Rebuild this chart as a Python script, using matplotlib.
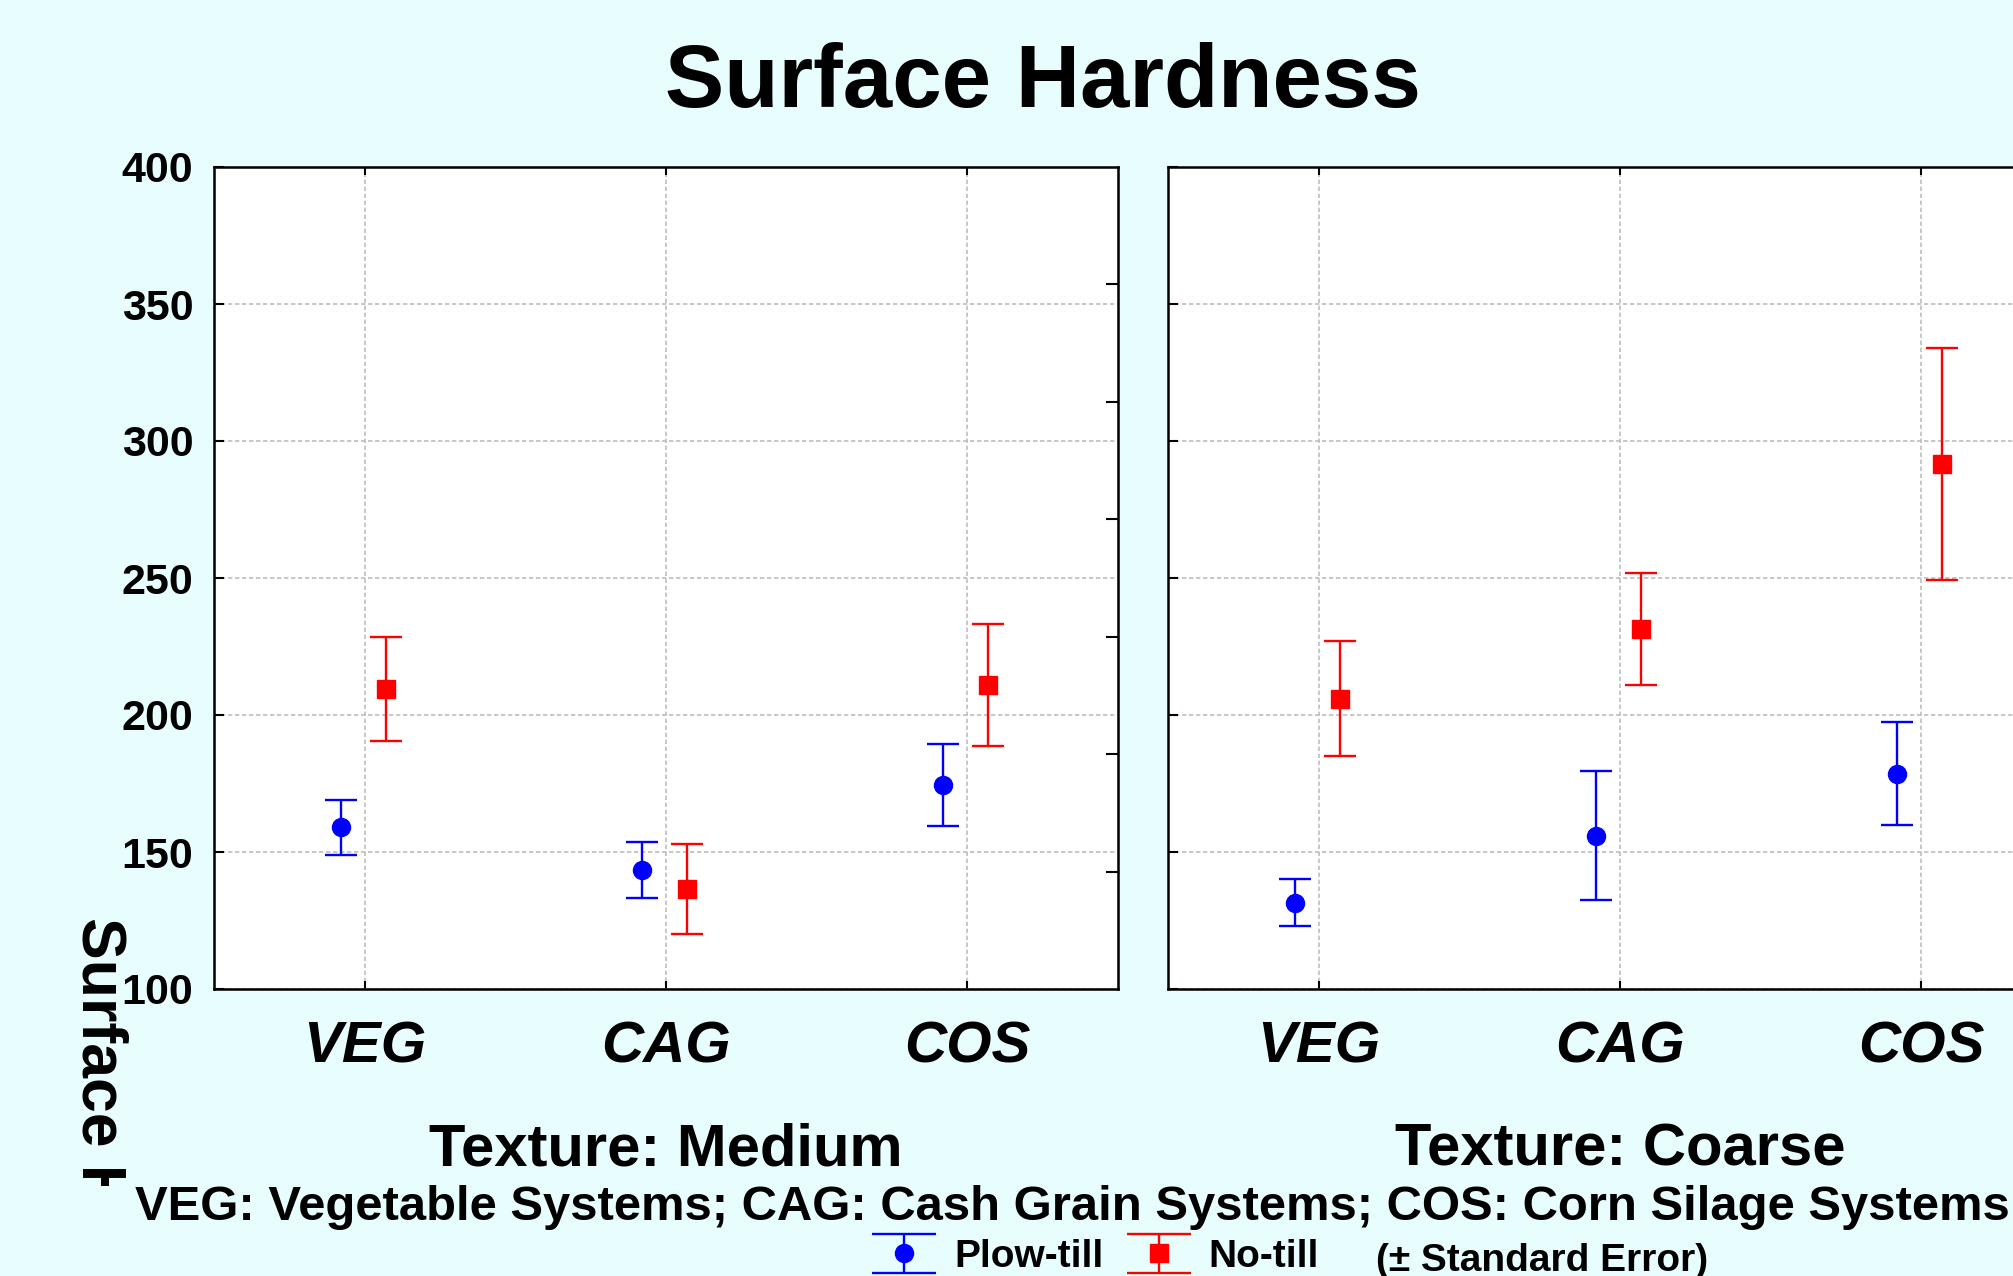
import numpy as np
import matplotlib
matplotlib.use('Agg')
import matplotlib.pyplot as plt
from matplotlib.lines import Line2D
from matplotlib.transforms import Bbox

# values
systems = ['VEG', 'CAG', 'COS']
textures = ['Texture: Medium', 'Texture: Coarse']
plow_medium = [159.0, 143.5, 174.5]
plow_medium_se = [10.0, 10.2, 15.0]
notill_medium = [209.5, 136.5, 211.0]
notill_medium_se = [19.0, 16.6, 22.3]
plow_coarse = [131.5, 156.0, 178.5]
plow_coarse_se = [8.5, 23.5, 18.8]
notill_coarse = [206.0, 231.5, 291.5]
notill_coarse_se = [21.0, 20.5, 42.3]
yticks = [100, 150, 200, 250, 300, 350, 400]
footer = 'VEG: Vegetable Systems; CAG: Cash Grain Systems; COS: Corn Silage Systems'
#
plt.rcParams['font.family'] = ['Liberation Sans', 'DejaVu Sans']
plt.rcParams['font.weight'] = 'bold'
bg = '#E8FDFD'
W, H = 2013, 1276
fig = plt.figure(figsize=(W/100, H/100), dpi=100, facecolor=bg)
#
ax1 = fig.add_axes([214/W, 1-989/H, 904/W, 822/H])
ax2 = fig.add_axes([1168/W, 1-989/H, 904/W, 822/H])
x = np.arange(len(systems))
ekw = dict(linestyle='none', elinewidth=1.7, capsize=11.5, capthick=1.7, markersize=13)
#
for ax, p, pse, n, nse, lab in [(ax1, plow_medium, plow_medium_se, notill_medium, notill_medium_se, textures[0]),
                                 (ax2, plow_coarse, plow_coarse_se, notill_coarse, notill_coarse_se, textures[1])]:
    ax.set_facecolor('white')
    eb1 = ax.errorbar(x-0.08, p, yerr=pse, fmt='o', color='#0000FF', zorder=3, **ekw)
    eb2 = ax.errorbar(x+0.07, n, yerr=nse, fmt='s', color='#FF0000', zorder=3, **ekw)
    ax.set_xlim(-0.5, 2.5)
    ax.set_ylim(100, 400)
    ax.set_xticks(x)
    ax.set_xticklabels(systems, fontsize=42, fontstyle='italic', fontweight='bold')
    ax.set_yticks(yticks)
    ax.grid(True, color='#BEBEBE', linestyle=(0, (2.6, 1.6)), linewidth=1.2)
    ax.set_axisbelow(True)
    ax.tick_params(axis='x', direction='in', top=True, length=6, width=1.5, pad=23)
    ax.tick_params(axis='y', direction='in', length=7, width=1.5, pad=15, labelsize=31)
    for s in ax.spines.values():
        s.set_linewidth(1.8)
    ax.text(0.5, -177/822, lab, transform=ax.transAxes, ha='center', va='baseline', fontsize=43)

ax2.set_yticklabels([])
# odd ticks on the right edge of the left panel
ax1r = ax1.twinx()
ax1r.set_ylim(100, 400)
ax1r.set_yticks(np.linspace(100, 400, 8)[1:-1])
ax1r.set_yticklabels([])
ax1r.tick_params(axis='y', direction='in', length=9, width=1.5)
#
fig.text(1043/W, 1-107/H, 'Surface Hardness', ha='center', va='baseline', fontsize=64)
fig.text(135/W, 1-1220/H, footer, ha='left', va='baseline', fontsize=35.3)
yl = fig.text(99/W, 1-917/H, 'Surface Hardness', rotation=270, ha='center', va='top', fontsize=45)
yl.set_clip_box(Bbox.from_extents(0, H-1186, W, H))
yl.set_clip_on(True)
#
leg = fig.legend(handles=[eb1, eb2], labels=['Plow-till', 'No-till'], ncol=2, frameon=False,
                 loc='center left', bbox_to_anchor=(836/W, 1-1257/H), fontsize=28,
                 handlelength=1.7, handletextpad=0.44, columnspacing=0.57)
for l in leg.findobj(Line2D):
    if l.get_marker() == '_':
        l.set_markersize(46)
fig.text(1376/W, 1-1271/H, '(\u00b1 Standard Error)', ha='left', va='baseline', fontsize=28)
#
fig.savefig('out.png', dpi=100, facecolor=bg)
